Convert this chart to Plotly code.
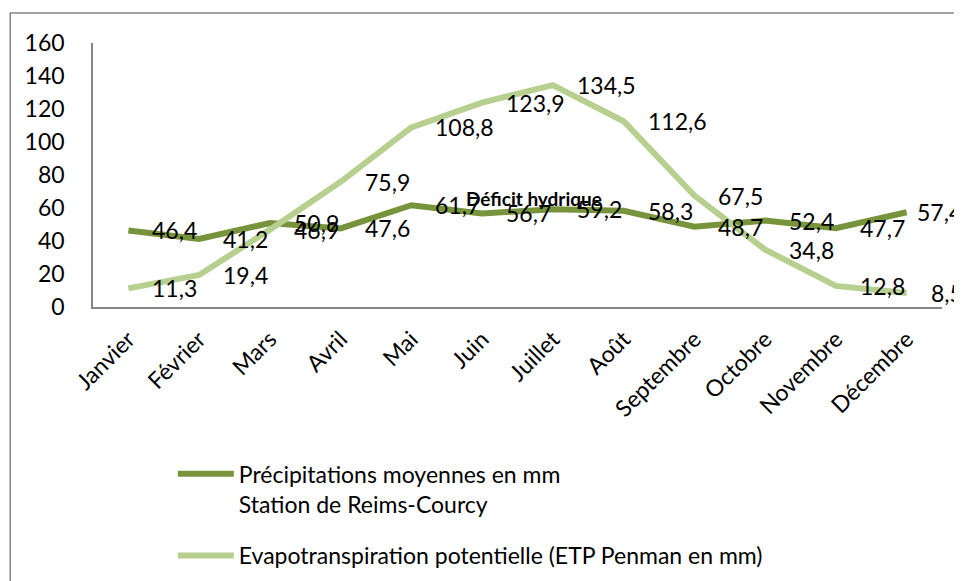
import plotly.graph_objects as go

months = ["Janvier", "Février", "Mars", "Avril", "Mai", "Juin", "Juillet",
          "Août", "Septembre", "Octobre", "Novembre", "Décembre"]
precip = [46.4, 41.2, 50.9, 47.6, 61.7, 56.7, 59.2, 58.3, 48.7, 52.4, 47.7, 57.4]
etp = [11.3, 19.4, 46.9, 75.9, 108.8, 123.9, 134.5, 112.6, 67.5, 34.8, 12.8, 8.5]
y_ticks = [0, 20, 40, 60, 80, 100, 120, 140, 160]

name_precip = "Précipitations moyennes en mm<br>Station de Reims-Courcy"
name_etp = "Evapotranspiration potentielle (ETP Penman en mm)"

DARK = "#77933C"
LIGHT = "#B7CF8F"
FONT = "Lato"
FS = 23

fig = go.Figure()
fig.add_trace(go.Scatter(x=months, y=precip, mode="lines", name=name_precip,
                         legendgroup="p", line=dict(color=DARK, width=6)))
fig.add_trace(go.Scatter(x=months, y=etp, mode="lines", name=name_etp,
                         legendgroup="e", line=dict(color=LIGHT, width=6)))

def fmt(v):
    return f"{v:.1f}".replace(".", ",")

annotations = []
for series, last_shift in ((precip, 8), (etp, 22)):
    n = len(series)
    for i, (m, v) in enumerate(zip(months, series)):
        annotations.append(dict(x=m, y=v, xref="x", yref="y", text=fmt(v),
                                showarrow=False, xanchor="left", yanchor="middle",
                                xshift=last_shift if i == n - 1 else 22,
                                font=dict(family=FONT, size=FS, color="black")))
annotations.append(dict(x=5.73, y=66, xref="x", yref="y", text="<b>Déficit hydrique</b>",
                        showarrow=False, xanchor="center", yanchor="middle",
                        font=dict(family=FONT, size=19, color="black")))

# the page body adds an 8px offset; margins compensate for it
fig.update_layout(
    width=962, height=581,
    margin=dict(l=85, r=28, t=35, b=282, autoexpand=False),
    plot_bgcolor="white", paper_bgcolor="white",
    font=dict(family=FONT, size=FS, color="black"),
    showlegend=True,
    legend=dict(x=0.094, y=-0.55, xanchor="left", yanchor="top",
                font=dict(family=FONT, size=FS), valign="top",
                traceorder="grouped", tracegroupgap=19, itemwidth=56),
    annotations=annotations,
    shapes=[dict(type="rect", xref="paper", yref="paper",
                 x0=-0.0975, x1=1.05, y0=-1.1, y1=1.1136,
                 line=dict(color="#868686", width=1.5), fillcolor="rgba(0,0,0,0)",
                 layer="below")],
)
fig.update_xaxes(type="category", range=[-0.5, 11.5], showline=True, linecolor="#868686",
                 linewidth=1.5, showgrid=False, ticks="", tickangle=-45, automargin=False,
                 tickfont=dict(family=FONT, size=FS), ticklabelstandoff=8)
fig.update_yaxes(range=[0, 160], tickvals=y_ticks, showline=True, linecolor="#868686",
                 linewidth=1.5, showgrid=False, zeroline=False, ticks="", automargin=False,
                 tickfont=dict(family=FONT, size=FS), ticklabelstandoff=22)

fig.write_html("out.html")
